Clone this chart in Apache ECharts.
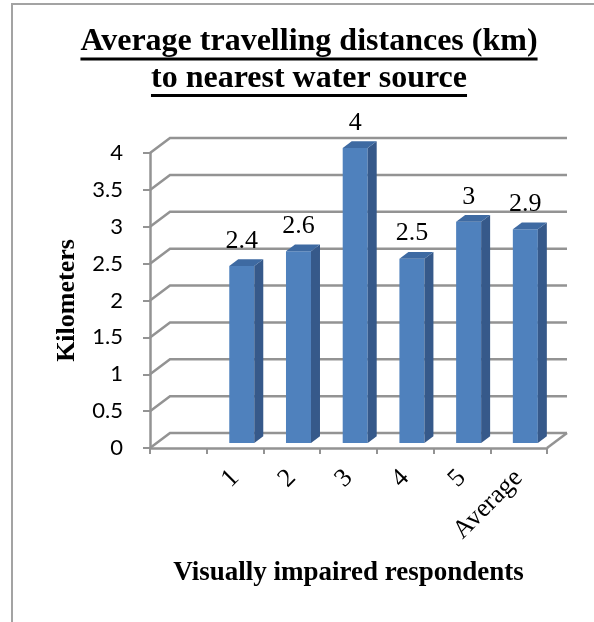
<!DOCTYPE html>
<html>
<head>
<meta charset="utf-8">
<script src="https://cdn.jsdelivr.net/npm/echarts@6/dist/echarts.min.js"></script>
<style>
  html, body { margin: 0; padding: 0; background: #fff; }
  #frame { position: absolute; left: 11px; top: 3px; width: 620px; height: 660px;
           border-left: 2px solid #a3a3a3; border-top: 2px solid #a3a3a3; }
  #chart { position: absolute; left: 0; top: 0; width: 594px; height: 622px; }
</style>
</head>
<body>
<div id="frame"></div>
<div id="chart"></div>
<script>
// chart data
const respondents = ['', '1', '2', '3', '4', '5', 'Average']
const distances = [null, 2.4, 2.6, 4, 2.5, 3, 2.9]
const kmTicks = [0, 0.5, 1, 1.5, 2, 2.5, 3, 3.5, 4]
const titleLines = ['Average travelling distances (km)', 'to nearest water source']

// look of the excel 3d chart
const gridGray = '#939393'
const wallDx = 20, wallDy = 15      // back wall offset
const barDx = 6.7, barDy = 5        // bar front plane offset
const barHalf = 12.5, sideDx = 9, sideDy = 6.75
const serif = '"Liberation Serif", "Times New Roman", serif'

const chart = echarts.init(document.getElementById('chart'))

const titleFont = 'bold 32px ' + serif
const ctx = document.createElement('canvas').getContext('2d')
ctx.font = titleFont
const titleCx = 309
const titleY = [42, 78.5]
const underY = [57.5, 94]
let titleGraphics = []
titleLines.forEach((t, i) => {
  const w = ctx.measureText(t).width
  titleGraphics.push({
    type: 'text',
    style: { text: t, x: titleCx, y: titleY[i], align: 'center', verticalAlign: 'middle',
             font: titleFont, fill: '#000' }
  })
  titleGraphics.push({
    type: 'rect', shape: { x: titleCx - w / 2, y: underY[i], width: w, height: 3 },
    style: { fill: '#000' }
  })
})

function renderWall(params, api) {
  const cs = params.coordSys
  const y = api.coord([0, api.value(1)])[1]
  const x0 = cs.x, x1 = cs.x + cs.width
  const children = [{
    type: 'polyline',
    shape: { points: [[x0, y], [x0 + wallDx, y - wallDy], [x1 + wallDx, y - wallDy]] },
    style: { stroke: gridGray, lineWidth: 2.5, fill: null }
  }]
  if (api.value(1) === 0) {
    children.push({
      type: 'line',
      shape: { x1: x1, y1: y, x2: x1 + wallDx, y2: y - wallDy },
      style: { stroke: gridGray, lineWidth: 2.5 }
    })
  }
  return { type: 'group', children: children }
}

function renderBar(params, api) {
  const base = api.coord([api.value(0), 0])
  const top = api.coord([api.value(0), api.value(1)])
  const cx = base[0] + barDx
  const y0 = base[1] - barDy
  const y1 = top[1] - barDy
  const l = cx - barHalf, r = cx + barHalf
  return {
    type: 'group',
    children: [
      { type: 'rect', shape: { x: l, y: y1, width: r - l, height: y0 - y1 },
        style: { fill: '#4f81bd' } },
      { type: 'polygon',
        shape: { points: [[r, y1], [r + sideDx, y1 - sideDy], [r + sideDx, y0 - sideDy], [r, y0]] },
        style: { fill: '#36598a' } },
      { type: 'polygon',
        shape: { points: [[l, y1], [l + sideDx, y1 - sideDy], [r + sideDx, y1 - sideDy], [r, y1]] },
        style: { fill: '#3e6aa2' } },
      { type: 'text',
        style: { text: String(api.value(1)), x: cx, y: y1 - 12, align: 'center',
                 verticalAlign: 'bottom', font: '26px ' + serif, fill: '#000' } }
    ]
  }
}

const option = {
  animation: false,
  backgroundColor: 'transparent',
  graphic: titleGraphics,
  grid: { left: 150, right: 47, top: 153, bottom: 174 },
  xAxis: {
    type: 'category',
    data: respondents,
    boundaryGap: true,
    axisLine: { lineStyle: { color: gridGray, width: 2.5 } },
    axisTick: { show: true, length: 6, interval: 0, lineStyle: { color: gridGray, width: 2 } },
    axisLabel: { rotate: 45, interval: 0, margin: 26, color: '#000',
                 fontFamily: serif, fontSize: 26 },
    name: 'Visually impaired respondents',
    nameLocation: 'middle',
    nameGap: 112,
    nameTextStyle: { color: '#000', fontFamily: serif, fontWeight: 'bold', fontSize: 27 }
  },
  yAxis: {
    type: 'value',
    min: 0, max: 4, interval: 0.5,
    splitLine: { show: false },
    axisLine: { show: true, lineStyle: { color: gridGray, width: 2.5 } },
    axisTick: { show: true, length: 7, lineStyle: { color: gridGray, width: 2 } },
    axisLabel: { margin: 27, color: '#000', fontFamily: 'Lato', fontSize: 22 },
    name: 'Kilometers',
    nameLocation: 'middle',
    nameRotate: 90,
    nameGap: 70,
    nameTextStyle: { color: '#000', fontFamily: serif, fontWeight: 'bold', fontSize: 26 }
  },
  series: [
    {
      type: 'custom',
      z: 1,
      clip: false,
      silent: true,
      data: kmTicks.map(v => [0, v]),
      renderItem: renderWall
    },
    {
      type: 'custom',
      z: 3,
      clip: false,
      data: distances.map((v, i) => [i, v]).filter(d => d[1] != null),
      encode: { x: 0, y: 1 },
      renderItem: renderBar
    }
  ]
}
chart.setOption(option)
</script>
</body>
</html>
